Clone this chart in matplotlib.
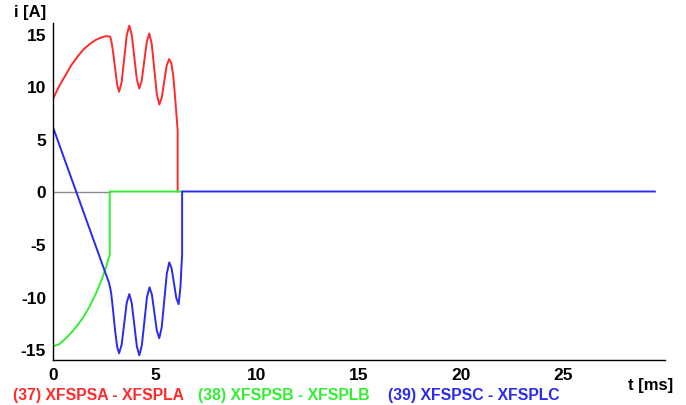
import matplotlib.pyplot as plt

# time [ms] and current [A]
t_red = [0, 0.3, 0.6, 0.9, 1.2, 1.5, 1.8, 2.1, 2.4, 2.6, 2.8,
         2.85, 2.95, 3.05, 3.15, 3.24,
         3.365, 3.49, 3.615, 3.74,
         3.86, 3.985, 4.11, 4.23,
         4.35, 4.475, 4.6, 4.72,
         4.84, 4.965, 5.09, 5.21,
         5.33, 5.45, 5.57, 5.69,
         5.8, 5.9, 6.0, 6.11, 6.11]
i_red = [8.8, 10.0, 11.0, 12.0, 12.8, 13.5, 14.0, 14.4, 14.65, 14.75, 14.7,
         14.4, 13.2, 11.6, 10.1, 9.47,
         10.39, 12.61, 14.83, 15.75,
         14.88, 12.77, 10.65, 9.78,
         10.54, 12.39, 14.24, 15.0,
         14.02, 11.63, 9.24, 8.26,
         8.89, 10.42, 11.94, 12.57,
         12.2, 10.9, 8.6, 5.8, 0]

t_green = [0, 0.3, 0.6, 0.9, 1.2, 1.5, 1.8, 2.1, 2.4, 2.6, 2.78, 2.78, 6.33]
i_green = [-14.7, -14.5, -14.0, -13.4, -12.7, -11.9, -10.9, -9.7, -8.3, -7.2, -6.0, 0, 0]

t_blue = [0, 2.75,
          2.85, 2.95, 3.05, 3.15, 3.24,
          3.365, 3.49, 3.615, 3.74,
          3.86, 3.985, 4.11, 4.23,
          4.355, 4.48, 4.605, 4.73,
          4.85, 4.97, 5.09, 5.21,
          5.33, 5.455, 5.58, 5.70,
          5.815, 5.93, 6.045, 6.16,
          6.25, 6.3, 6.33, 6.33, 29.5]
i_blue = [6.1, -8.7,
          -9.6, -11.4, -13.3, -14.8, -15.36,
          -14.54, -12.55, -10.56, -9.74,
          -10.59, -12.65, -14.70, -15.55,
          -14.61, -12.33, -10.04, -9.1,
          -9.81, -11.52, -13.22, -13.93,
          -12.88, -10.33, -7.78, -6.73,
          -7.31, -8.72, -10.12, -10.7,
          -9.0, -7.0, -6.0, 0, 0]

names = ['(37) XFSPSA - XFSPLA', '(38) XFSPSB - XFSPLB', '(39) XFSPSC - XFSPLC']
colors = ['#ff2a2a', '#33ee33', '#2a2af0']
x_ticks = [0, 5, 10, 15, 20, 25]
y_ticks = [-15, -10, -5, 0, 5, 10, 15]

plt.rcParams['font.family'] = ['Liberation Sans', 'DejaVu Sans']
plt.rcParams['font.weight'] = 'bold'
plt.rcParams['axes.unicode_minus'] = False

fig = plt.figure(figsize=(6.86, 4.06), dpi=100)
ax = fig.add_axes([53 / 686, 45 / 406, 612 / 686, 337 / 406])

# zero reference line, only visible before the green phase jumps to 0
ax.plot([0, t_green[-2]], [0, 0], color='#8c8c8c', lw=1.0)
ax.plot(t_red, i_red, color=colors[0], lw=1.4)
ax.plot(t_green, i_green, color=colors[1], lw=1.4)
ax.plot(t_blue, i_blue, color=colors[2], lw=1.4)

ax.set_xlim(0, 30)
ax.set_ylim(-16, 16)
ax.set_xticks(x_ticks)
ax.set_yticks(y_ticks)
ax.tick_params(length=0, labelsize=12.5, pad=5)
for lab in ax.get_xticklabels() + ax.get_yticklabels():
  lab.set_fontweight('bold')
ax.spines['top'].set_visible(False)
ax.spines['right'].set_visible(False)
for s in ['left', 'bottom']:
  ax.spines[s].set_color('black')
  ax.spines[s].set_linewidth(1.0)

fig.text(30 / 686, 1 - 13 / 406, 'i [A]', ha='center', va='center', fontsize=12, fontweight='bold')
fig.text(651 / 686, 1 - 386 / 406, 't [ms]', ha='center', va='center', fontsize=12, fontweight='bold')
x_leg = [13, 198, 388]
for x, name, c in zip(x_leg, names, colors):
  fig.text(x / 686, 1 - 396 / 406, name, ha='left', va='center', fontsize=11.3,
           fontweight='bold', color=c)

fig.savefig('out.png', dpi=100)
